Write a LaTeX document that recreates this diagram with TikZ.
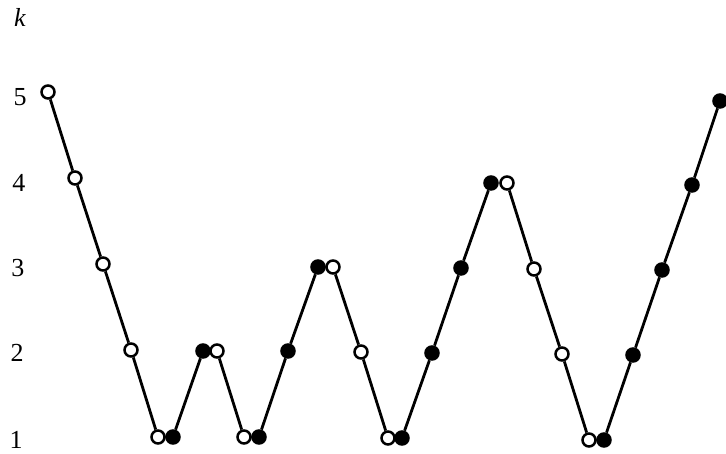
\documentclass[tikz,border=0pt]{standalone}
\usepackage{fontspec}
\setmainfont{Liberation Serif}
\begin{document}
\begin{tikzpicture}[x=1pt,y=-1pt,
  opn/.style={circle,draw=black,line width=2.5pt,fill=white,minimum size=13pt,inner sep=0pt},
  fil/.style={circle,draw=black,line width=2.5pt,fill=black,minimum size=13pt,inner sep=0pt},
  lbl/.style={font=\fontsize{26}{26}\selectfont,inner sep=0pt},
  edge/.style={line width=2.8pt}]
\useasboundingbox (0,0) rectangle (726,454);
\node[lbl] (k) at (20,17) {\itshape k};
\node[lbl] (l5) at (20,97) {5};
\node[lbl] (l4) at (19,183) {4};
\node[lbl] (l3) at (18,268) {3};
\node[lbl] (l2) at (17,353) {2};
\node[lbl] (l1) at (16,440) {1};
\foreach \n/\s/\x/\y in {
  a/opn/48/92, b/opn/75/178, c/opn/103/264, d/opn/131/350, e/opn/158/437,
  f/fil/173/437, g/fil/203/351, h/opn/217/351, i/opn/244/437, j/fil/259/437,
  m/fil/288/351, n/fil/318/267, o/opn/333/267, p/opn/361/352, q/opn/388/438,
  r/fil/402/438, s/fil/432/353, t/fil/461/268, u/fil/491/183, v/opn/507/183,
  w/opn/534/269, x/opn/562/354, y/opn/589/440, z/fil/604/440, aa/fil/633/355,
  bb/fil/662/270, cc/fil/692/185, dd/fil/720/101}
  \node[\s] (\n) at (\x,\y) {};
\draw[edge] (a) -- (b) -- (c) -- (d) -- (e) -- (f) -- (g) -- (h) -- (i) -- (j)
  -- (m) -- (n) -- (o) -- (p) -- (q) -- (r) -- (s) -- (t) -- (u) -- (v)
  -- (w) -- (x) -- (y) -- (z) -- (aa) -- (bb) -- (cc) -- (dd);
\end{tikzpicture}
\end{document}
